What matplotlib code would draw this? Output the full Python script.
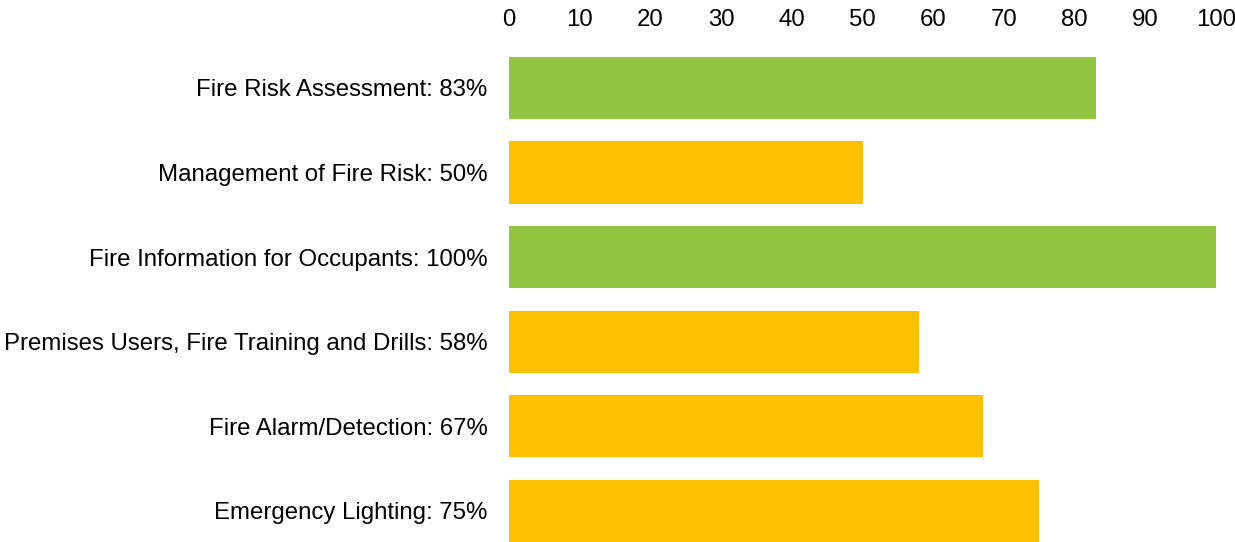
import matplotlib
matplotlib.use("Agg")
import matplotlib.pyplot as plt

# compliance scores per fire-safety area, top to bottom
areas = [
    "Fire Risk Assessment",
    "Management of Fire Risk",
    "Fire Information for Occupants",
    "Premises Users, Fire Training and Drills",
    "Fire Alarm/Detection",
    "Emergency Lighting",
]
scores = [83, 50, 100, 58, 67, 75]
passed = [True, False, True, False, False, False]

GREEN = "#92C540"
AMBER = "#FFC000"

plt.rcParams["font.family"] = ["Liberation Sans", "DejaVu Sans"]

fig = plt.figure(figsize=(12.35, 5.42), dpi=100)
ax = fig.add_axes([509 / 1235, 0.0, (1216 - 509) / 1235, (542 - 41.5) / 542])

ypos = list(range(len(areas)))
colors = [GREEN if p else AMBER for p in passed]
ax.barh(ypos, scores, height=0.735, color=colors, edgecolor="none")

ax.set_xlim(0, 100)
ax.set_ylim(5.37, -0.55)
ax.set_xticks(range(0, 101, 10))
ax.xaxis.tick_top()
ax.tick_params(axis="x", length=0, pad=7.5, labelsize=17.3)
ax.set_yticks(ypos)
ax.set_yticklabels([f"{a}: {s}%" for a, s in zip(areas, scores)], fontsize=17.3)
ax.tick_params(axis="y", length=0, pad=15.5)
for sp in ax.spines.values():
    sp.set_visible(False)

fig.savefig("out.png", dpi=100)
